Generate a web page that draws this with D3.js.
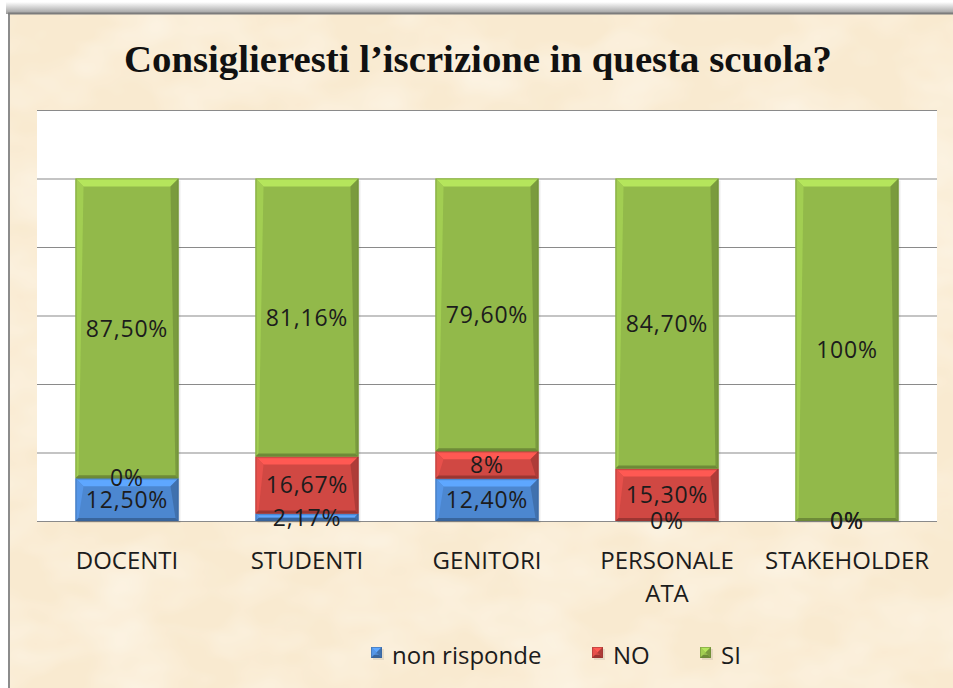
<!DOCTYPE html>
<html>
<head>
<meta charset="utf-8">
<script src="https://cdn.jsdelivr.net/npm/d3@7"></script>
<style>
  html, body { margin: 0; padding: 0; background: #ffffff; }
  svg { display: block; }
</style>
</head>
<body>
<svg id="chart" width="953" height="688"></svg>
<script>
// Survey answers by respondent group (percent)
const categories = ["DOCENTI", "STUDENTI", "GENITORI", "PERSONALE ATA", "STAKEHOLDER"];
const nonRisponde = [12.5, 2.17, 12.4, 0, 0];
const no = [0, 16.67, 8, 15.3, 0];
const si = [87.5, 81.16, 79.6, 84.7, 100];
const nonRispondeLabels = ["12,50%", "2,17%", "12,40%", "0%", "0%"];
const noLabels = ["0%", "16,67%", "8%", "15,30%", "0%"];
const siLabels = ["87,50%", "81,16%", "79,60%", "84,70%", "100%"];
const seriesNames = ["non risponde", "NO", "SI"];
const yTicks = [0, 20, 40, 60, 80, 100, 120];

const svg = d3.select("#chart");
const W = 953, H = 688;
const colors = ["#4c87d0", "#d04843", "#92b94a"];
const FONT = "'Open Sans', 'Noto Sans', sans-serif";

const defs = svg.append("defs");
// parchment texture
const tex = defs.append("filter").attr("id", "paper").attr("x", 0).attr("y", 0).attr("width", "100%").attr("height", "100%");
tex.append("feTurbulence").attr("type", "fractalNoise").attr("baseFrequency", "0.012 0.02").attr("numOctaves", 3).attr("seed", 4).attr("result", "n");
tex.append("feColorMatrix").attr("in", "n").attr("type", "matrix")
  .attr("values", "0 0 0 0 1  0 0 0 0 0.98  0 0 0 0 0.93  0 0 0 0.9 -0.3").attr("result", "c");
tex.append("feComposite").attr("in", "c").attr("in2", "SourceGraphic").attr("operator", "in");

const topShadow = defs.append("linearGradient").attr("id", "topShadow").attr("x1", 0).attr("y1", 0).attr("x2", 0).attr("y2", 1);
topShadow.append("stop").attr("offset", "0%").attr("stop-color", "#ffffff");
topShadow.append("stop").attr("offset", "100%").attr("stop-color", "#9a9a9a");

// frame
svg.append("rect").attr("x", 0).attr("y", 0).attr("width", W).attr("height", H).attr("fill", "#ffffff");
svg.append("rect").attr("x", 6).attr("y", 2).attr("width", W - 6).attr("height", 12).attr("fill", "url(#topShadow)");
svg.append("rect").attr("x", 8).attr("y", 13).attr("width", W - 8).attr("height", H - 13).attr("fill", "#f9ead0");
svg.append("rect").attr("x", 8).attr("y", 13).attr("width", W - 8).attr("height", H - 13).attr("fill", "#fbf0da").attr("filter", "url(#paper)");
svg.append("line").attr("x1", 9).attr("x2", 9).attr("y1", 13).attr("y2", H).attr("stroke", "#8c8c8c").attr("stroke-width", 2);
svg.append("line").attr("x1", 8).attr("x2", W).attr("y1", 13.5).attr("y2", 13.5).attr("stroke", "#7c7c7c").attr("stroke-width", 2);

// title
svg.append("text").attr("x", 478).attr("y", 72).attr("text-anchor", "middle")
  .attr("font-family", "'Liberation Serif', 'DejaVu Serif', serif").attr("font-weight", "bold")
  .attr("font-size", 37).attr("fill", "#111")
  .attr("textLength", 708).attr("lengthAdjust", "spacingAndGlyphs")
  .text("Consiglieresti l\u2019iscrizione in questa scuola?");

// plot area
const plot = { left: 37, right: 937, top: 110, bottom: 521 };
const x = d3.scaleBand().domain(categories).range([plot.left, plot.right]).paddingInner(0.428).paddingOuter(0.214);
const y = d3.scaleLinear().domain([0, 120]).range([plot.bottom, plot.top]);

svg.append("rect").attr("x", plot.left).attr("y", plot.top).attr("width", plot.right - plot.left)
  .attr("height", plot.bottom - plot.top).attr("fill", "#ffffff");

const yAxis = d3.axisLeft(y).tickValues(yTicks).tickSize(-(plot.right - plot.left)).tickFormat("");
const gy = svg.append("g").attr("transform", `translate(${plot.left},0)`).call(yAxis);
gy.select(".domain").remove();
gy.selectAll(".tick line").attr("stroke", "#8a8a8a").attr("stroke-width", 1.2);

// stacked data
const rows = categories.map((c, i) => ({ cat: c, "non risponde": nonRisponde[i], "NO": no[i], "SI": si[i], i }));
const stack = d3.stack().keys(seriesNames)(rows);
const labelSets = [nonRispondeLabels, noLabels, siLabels];

function bevelBar(g, bx, by, bw, bh, color) {
  if (bh <= 0) return;
  const c = d3.color(color);
  g.append("rect").attr("x", bx + 2).attr("y", by + 2).attr("width", bw).attr("height", bh).attr("fill", "#000").attr("opacity", 0.08);
  g.append("rect").attr("x", bx).attr("y", by).attr("width", bw).attr("height", bh).attr("fill", color);
  const bt = Math.min(8, bh / 2), bs = Math.min(3, bh / 2), bb = Math.min(3, bh / 2);
  const poly = (pts, fill, op) => g.append("polygon").attr("points", pts.map(p => p.join(",")).join(" ")).attr("fill", fill).attr("opacity", op);
  poly([[bx, by], [bx + bw, by], [bx + bw - bt, by + bt], [bx + bt, by + bt]], c.brighter(0.6), 1);
  poly([[bx, by], [bx + bt, by + bt], [bx + bs, by + bh - bb], [bx, by + bh]], c.brighter(0.3), 1);
  poly([[bx + bw, by], [bx + bw, by + bh], [bx + bw - bs, by + bh - bb], [bx + bw - bt, by + bt]], c.darker(0.5), 1);
  poly([[bx, by + bh], [bx + bw, by + bh], [bx + bw - bs, by + bh - bb], [bx + bs, by + bh - bb]], c.darker(0.8), 1);
  g.append("rect").attr("x", bx + 0.5).attr("y", by + 0.5).attr("width", bw - 1).attr("height", Math.max(0, bh - 1))
    .attr("fill", "none").attr("stroke", c.darker(0.9)).attr("stroke-opacity", 0.5);
}

const barsG = svg.append("g");
stack.forEach((layer, si_) => {
  layer.forEach(d => {
    const bx = x(d.data.cat), bw = x.bandwidth();
    const y0 = y(d[0]), y1 = y(d[1]);
    bevelBar(barsG, bx, y1, bw, y0 - y1, colors[si_]);
  });
});

// value labels
const labG = svg.append("g").attr("font-family", FONT).attr("font-size", 23).attr("letter-spacing", 0.8).attr("fill", "#1c1c1c");
stack.forEach((layer, si_) => {
  layer.forEach(d => {
    const cx = x(d.data.cat) + x.bandwidth() / 2;
    const cy = (y(d[0]) + y(d[1])) / 2;
    labG.append("text").attr("x", cx).attr("y", cy).attr("text-anchor", "middle").attr("dy", "0.36em")
      .text(labelSets[si_][d.data.i]);
  });
});

// category labels
const xAxis = d3.axisBottom(x).tickSize(0).tickPadding(0);
const gx = svg.append("g").attr("transform", `translate(0,${plot.bottom})`).call(xAxis);
gx.select(".domain").remove();
gx.selectAll(".tick text").attr("font-family", FONT).attr("font-size", 24)
  .attr("fill", "#1c1c1c").attr("dy", null).attr("y", 48)
  .each(function(d) {
    const t = d3.select(this);
    const words = d.split(" ");
    if (words.length > 1) {
      t.text(null);
      words.forEach((w, k) => t.append("tspan").attr("x", 0).attr("dy", k === 0 ? 0 : 33).text(w));
    }
  });

// legend
const legend = svg.append("g").attr("font-family", FONT).attr("font-size", 24).attr("fill", "#1c1c1c");
const legendX = [371, 592, 700];
seriesNames.forEach((n, k) => {
  const g = legend.append("g");
  bevelBar(g, legendX[k], 647, 11, 11, colors[k]);
  g.append("text").attr("x", legendX[k] + 21).attr("y", 656).attr("dy", "0.34em").text(n);
});
</script>
</body>
</html>
